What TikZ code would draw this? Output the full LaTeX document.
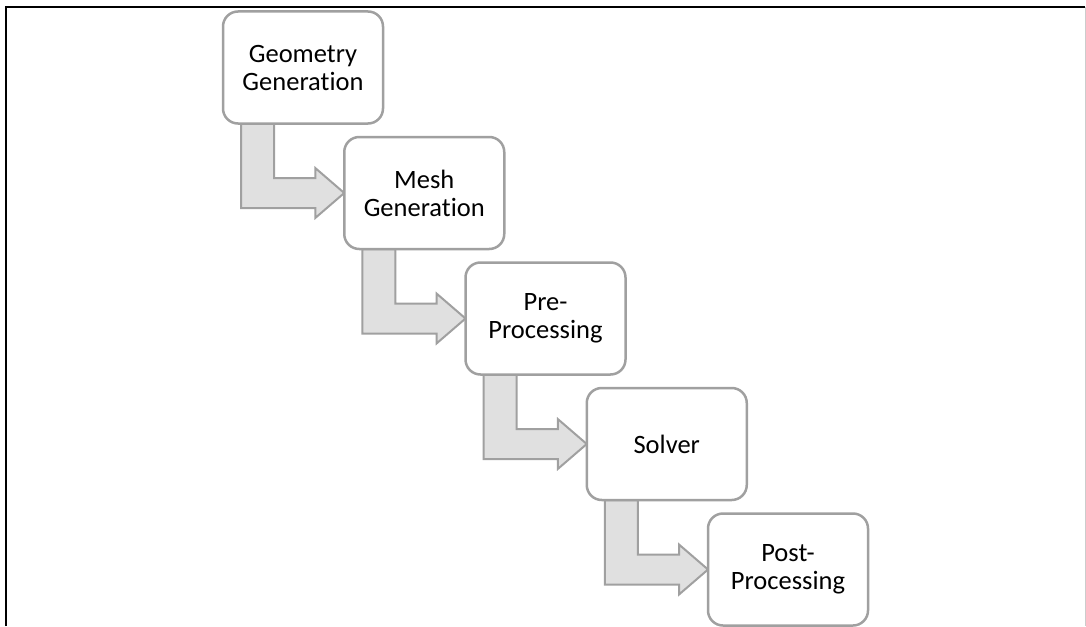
\documentclass[tikz,border=0pt]{standalone}
\usepackage{fontspec}
\setmainfont{Carlito}[Ligatures=NoCommon]
\usetikzlibrary{positioning, calc, backgrounds}
\definecolor{cedge}{HTML}{A0A0A0}
\definecolor{cfill}{HTML}{E0E0E0}
\definecolor{cframe}{HTML}{CCCCCC}
\tikzset{
  every picture/.style={x=1pt, y=1pt},
  stage/.style={draw=cedge, fill=white, line width=2.5pt, rounded corners=15pt, align=center, minimum width=160pt, minimum height=112pt, inner sep=0pt, outer sep=0pt, font=\fontsize{26.5}{28}\selectfont},
  bentarrow/.style={draw=cedge, fill=cfill, line width=2pt, line join=miter},
  frameline/.style={draw=black, line width=2pt},
}

\begin{document}
\begin{tikzpicture}
  \useasboundingbox (0,0) rectangle (1086,-626);
  \draw[frameline] (6,-626) -- (6,-7) -- (1085,-7);
  \draw[cframe, line width=1pt] (1085,-7) -- (1085,-626);
  \node[stage] (geo) at (303,-67.5) {Geometry\\Generation};
  \node[stage, below right=13.5pt and -38.75pt of geo] (mesh) {Mesh\\Generation};
  \node[stage, below right=13.5pt and -38.75pt of mesh] (pre) {Pre-\\Processing};
  \node[stage, below right=13.5pt and -38.75pt of pre] (solver) {Solver};
  \node[stage, below right=13.5pt and -38.75pt of solver] (post) {Post-\\Processing};
  \begin{scope}[on background layer]
    \foreach \a/\b in {geo/mesh, mesh/pre, pre/solver, solver/post}
      \draw[bentarrow] ($(\a.south west)+(18,0)$) |- ($(\b.west)+(-29,-15)$) -- ++(0,-10) -- (\b.west) -- ++(-29,25) -- ++(0,-10) -| ($(\a.south west)+(51,0)$) -- cycle;
  \end{scope}
\end{tikzpicture}
\end{document}
